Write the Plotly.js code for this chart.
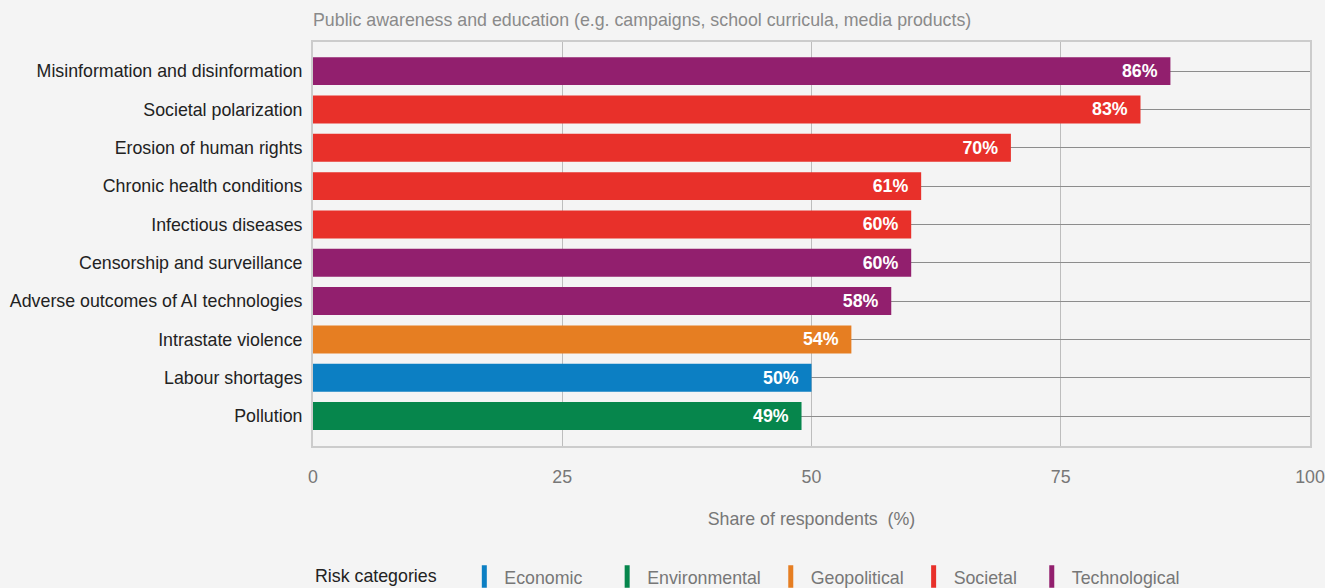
<!DOCTYPE html>
<html>
<head>
<meta charset="utf-8">
<script src="https://cdn.plot.ly/plotly-3.0.1.min.js"></script>
<style>
  html, body { margin: 0; padding: 0; background: #f4f4f4; }
  #chart { width: 1325px; height: 588px; }
</style>
</head>
<body>
<div id="chart"></div>
<script>
// ---- Data ----
const risks = [
  "Misinformation and disinformation",
  "Societal polarization",
  "Erosion of human rights",
  "Chronic health conditions",
  "Infectious diseases",
  "Censorship and surveillance",
  "Adverse outcomes of AI technologies",
  "Intrastate violence",
  "Labour shortages",
  "Pollution"
];
const shares = [86, 83, 70, 61, 60, 60, 58, 54, 50, 49];
const riskCategory = [
  "Technological", "Societal", "Societal", "Societal", "Societal",
  "Technological", "Technological", "Geopolitical", "Economic", "Environmental"
];
const legendCategories = ["Economic", "Environmental", "Geopolitical", "Societal", "Technological"];
const xTicks = [0, 25, 50, 75, 100];

// ---- Styles ----
const categoryColors = {
  "Economic": "#0C7FC3",
  "Environmental": "#06864C",
  "Geopolitical": "#E67E22",
  "Societal": "#E8302A",
  "Technological": "#921F6E"
};
// extra spacing after each legend entry (number of non-breaking spaces)
const legendPad = { "Economic": 4, "Environmental": 1, "Geopolitical": 1, "Societal": 2, "Technological": 0 };
const FONT = "Liberation Sans, Arial, Helvetica, sans-serif";
const FS = 17.8;
const NB = "\u00a0";

const traces = [{
  type: "bar",
  orientation: "h",
  y: risks,
  x: shares,
  marker: { color: riskCategory.map(c => categoryColors[c]) },
  width: 0.73,
  text: shares.map(v => "<b>" + v + "%</b>" + NB + NB),
  textposition: "inside",
  insidetextanchor: "end",
  textangle: 0,
  textfont: { family: FONT, size: FS, color: "#ffffff" },
  cliponaxis: false,
  showlegend: false,
  hoverinfo: "x+y"
}];

legendCategories.forEach(c => {
  traces.push({
    type: "scatter",
    mode: "markers",
    x: [null], y: [null],
    name: c + NB.repeat(legendPad[c]),
    marker: { symbol: "line-ns-open", size: 16, color: categoryColors[c], line: { width: 5, color: categoryColors[c] } },
    showlegend: true,
    hoverinfo: "skip"
  });
});

const layout = {
  width: 1325,
  height: 588,
  paper_bgcolor: "#f4f4f4",
  plot_bgcolor: "#f4f4f4",
  font: { family: FONT, size: FS, color: "#222222" },
  margin: { l: 313, r: 15, t: 42, b: 142, pad: 0 },
  title: {
    text: "Public awareness and education (e.g. campaigns, school curricula, media products)",
    font: { family: FONT, size: FS, color: "#8a8a8a" },
    x: 0, xref: "paper", xanchor: "left",
    y: 1 - 20 / 588, yref: "container", yanchor: "middle"
  },
  xaxis: {
    range: [0, 100],
    tickvals: xTicks,
    ticktext: xTicks.map(String),
    tickfont: { family: FONT, size: FS, color: "#777777" },
    ticks: "",
    ticklabelstandoff: 14,
    showgrid: true,
    gridcolor: "#bdbdbd",
    gridwidth: 1,
    zeroline: false,
    showline: true,
    linecolor: "#cccccc",
    linewidth: 2,
    mirror: true,
    title: {
      text: "Share of respondents&nbsp;&nbsp;(%)",
      font: { family: FONT, size: FS, color: "#777777" },
      standoff: 26
    },
    fixedrange: true
  },
  yaxis: {
    type: "category",
    categoryorder: "array",
    categoryarray: risks,
    range: [9.78, -0.76],
    tickfont: { family: FONT, size: FS, color: "#222222" },
    ticks: "",
    ticklabelstandoff: 5,
    showgrid: true,
    gridcolor: "#8c8c8c",
    gridwidth: 1,
    zeroline: false,
    showline: true,
    linecolor: "#cccccc",
    linewidth: 2,
    mirror: true,
    fixedrange: true
  },
  showlegend: true,
  legend: {
    orientation: "h",
    x: 0, xref: "paper", xanchor: "left",
    y: 11 / 588, yref: "container", yanchor: "middle",
    bgcolor: "rgba(0,0,0,0)",
    font: { family: FONT, size: FS, color: "#777777" },
    title: { text: "Risk categories" + NB.repeat(4), font: { family: FONT, size: FS, color: "#222222" }, side: "left" },
    itemclick: false,
    itemdoubleclick: false
  },
  bargap: 0.27
};

Plotly.newPlot("chart", traces, layout, { displayModeBar: false, staticPlot: false });
</script>
</body>
</html>
